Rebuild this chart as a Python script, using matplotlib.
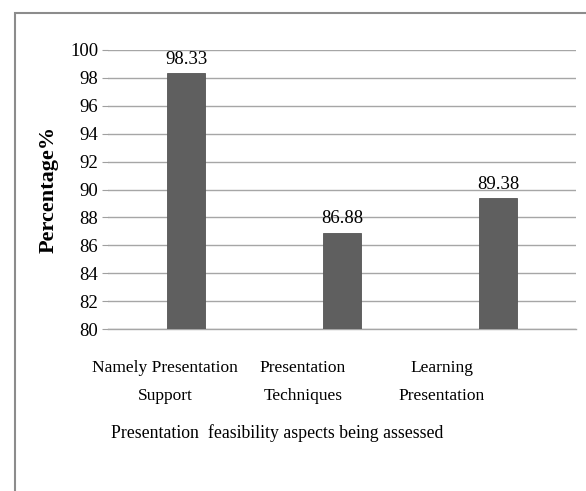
import matplotlib
matplotlib.use('Agg')
import matplotlib.pyplot as plt
from matplotlib.patches import Rectangle
from matplotlib.transforms import ScaledTranslation

aspects = ["Namely Presentation\nSupport", "Presentation\nTechniques", "Learning\nPresentation"]
percentages = [98.33, 86.88, 89.38]
y_ticks = list(range(80, 101, 2))

plt.rcParams['font.family'] = 'Liberation Serif'

W, H = 586, 491
fig = plt.figure(figsize=(W / 100, H / 100), dpi=100)

# outer chart frame, open on the right and bottom
fig.patches.append(Rectangle((15 / W, -0.1), 1.2, 1 - 13 / H + 0.1, transform=fig.transFigure,
                             fill=False, edgecolor='#8c8c8c', linewidth=1.5))

ax = fig.add_axes([108 / W, 1 - 329 / H, (576 - 108) / W, (329 - 50) / H])
x = range(len(aspects))
ax.bar(x, percentages, width=0.245, color='#5f5f5f', edgecolor='#555555', linewidth=0.6, zorder=3)
for xi, v in zip(x, percentages):
    ax.text(xi, v + 0.4, f"{v:.2f}", ha='center', va='bottom', fontsize=13.5, zorder=4)

ax.set_xlim(-0.5, 2.5)
ax.set_ylim(80, 100)
ax.set_yticks(y_ticks)
ax.set_xticks(list(x))
ax.set_xticklabels(aspects, fontsize=12.5, linespacing=2.05)
ax.tick_params(axis='x', length=0, pad=22)
ax.tick_params(axis='y', length=4, color='#a0a0a0', labelsize=13.5, pad=3)

# category labels sit a little left of their bars, more so further right
for lbl, dx in zip(ax.get_xticklabels(), [-21, -39, -56]):
    lbl.set_transform(lbl.get_transform() + ScaledTranslation(dx / 100, 0, fig.dpi_scale_trans))

ax.grid(axis='y', color='#a6a6a6', linewidth=1.0, zorder=0)
for side in ('left', 'right', 'top'):
    ax.spines[side].set_visible(False)
ax.spines['bottom'].set_color('#a6a6a6')
ax.spines['bottom'].set_linewidth(1.0)

ax.set_ylabel("Percentage%", fontsize=16, fontweight='bold', labelpad=8)
fig.text(277 / W, 1 - 433 / H, "Presentation  feasibility aspects being assessed",
         ha='center', va='center', fontsize=12.8)

fig.savefig('out.png', dpi=100)
